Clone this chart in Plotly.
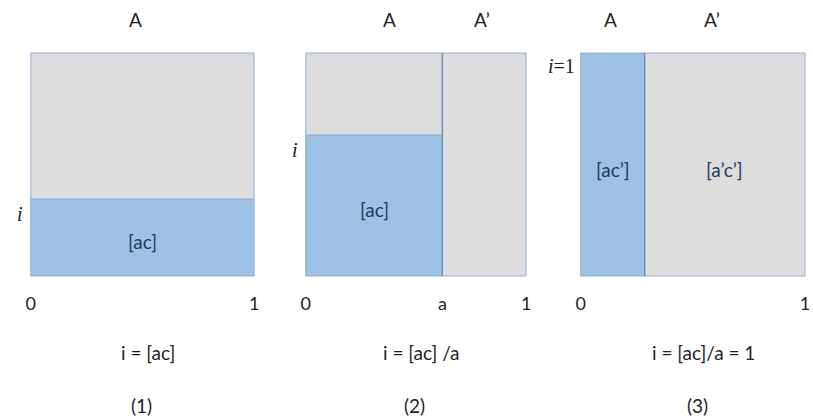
import plotly.graph_objects as go

# ---- data ----
panels = ["(1)", "(2)", "(3)"]
formulas = ["i = [ac]", "i = [ac] /a", "i = [ac]/a = 1"]
a_values = [1.0, 0.62, 0.285]          # width of region A in each panel
i_values = [0.345, 0.632, 1.0]         # height of the blue part [ac]
tick_text = [["0", "1"], ["0", "a", "1"], ["0", "1"]]
i_labels = ["i", "i", "i=1"]
inside_labels = [["[ac]"], ["[ac]"], ["[ac\u2019]", "[a\u2019c\u2019]"]]
top_labels = [["A"], ["A", "A\u2019"], ["A", "A\u2019"]]

W, H = 813, 420
BLUE = "#9EC2E6"
GRAY = "#DDDDDD"
EDGE = "#94AED0"
DIV = "#6A88B2"
TXT = "#222222"
NAVY = "#1F3B60"
FONT = "Lato"
FS = 19

# pixel boxes of each square (left, right) and shared top/bottom
px_lr = [(28, 253), (305, 527), (582, 808)]
py_top, py_bot = 53, 276
pad = 0.01

fig = go.Figure()
annotations = []
for k in range(3):
    xa = "x" if k == 0 else f"x{k+1}"
    ya = "y" if k == 0 else f"y{k+1}"
    a = a_values[k]
    i = i_values[k]
    line = dict(color=EDGE, width=1)
    fig.add_trace(go.Bar(x=[a / 2], width=[a], base=[0], y=[i], marker=dict(color=BLUE, line=line),
                         xaxis=xa, yaxis=ya, showlegend=False, hoverinfo="skip"))
    if i < 1:
        fig.add_trace(go.Bar(x=[a / 2], width=[a], base=[i], y=[1 - i], marker=dict(color=GRAY, line=line),
                             xaxis=xa, yaxis=ya, showlegend=False, hoverinfo="skip"))
    if a < 1:
        fig.add_trace(go.Bar(x=[(1 + a) / 2], width=[1 - a], base=[0], y=[1], marker=dict(color=GRAY, line=line),
                             xaxis=xa, yaxis=ya, showlegend=False, hoverinfo="skip"))
        fig.add_trace(go.Scatter(x=[a, a], y=[0, 1], mode="lines", line=dict(color=DIV, width=1.3),
                                 xaxis=xa, yaxis=ya, showlegend=False, hoverinfo="skip"))

    l, r = px_lr[k]
    scale = (r - l)
    dom_x = [(l - pad * scale) / W, min(1.0, (r + pad * scale) / W)]
    t, b = py_top, py_bot
    hs = b - t
    dom_y = [(H - b - pad * hs) / H, (H - t + pad * hs) / H]
    tv = [0, 1] if len(tick_text[k]) == 2 else [0, a, 1]
    axkey = "xaxis" if k == 0 else f"xaxis{k+1}"
    aykey = "yaxis" if k == 0 else f"yaxis{k+1}"
    fig.layout[axkey] = dict(domain=dom_x, range=[-pad, 1 + pad], showgrid=False, zeroline=False, showline=False,
                             tickvals=tv, ticktext=tick_text[k], ticks="", ticklabelstandoff=13,
                             ticklabeloverflow="allow",
                             tickfont=dict(family=FONT, size=FS - 1, color=TXT), anchor=ya, fixedrange=True)
    fig.layout[aykey] = dict(domain=dom_y, range=[-pad, 1 + pad], showgrid=False, zeroline=False, showline=False,
                             showticklabels=False, anchor=xa, fixedrange=True)

    annotations.append(dict(x=0, y=i, xref=xa, yref=ya, text=f"<i>{i_labels[k][0]}</i>{i_labels[k][1:]}",
                            showarrow=False, xanchor="right", xshift=-6 if i < 1 else -4,
                            yshift=-15 if i < 1 else -13,
                            font=dict(family="Liberation Serif", size=FS + 1, color=TXT)))
    if k < 2:
        annotations.append(dict(x=a / 2, y=i / 2, xref=xa, yref=ya, text=inside_labels[k][0], showarrow=False,
                                yshift=-4, font=dict(family=FONT, size=FS, color=NAVY)))
    else:
        annotations.append(dict(x=a / 2, y=0.5, xref=xa, yref=ya, text=inside_labels[k][0], showarrow=False,
                                yshift=-5, font=dict(family=FONT, size=FS, color=NAVY)))
        annotations.append(dict(x=(1 + a) / 2, y=0.5, xref=xa, yref=ya, text=inside_labels[k][1], showarrow=False,
                                yshift=-5, font=dict(family=FONT, size=FS, color=NAVY)))

# top labels A / A'
top_pos = [[0.47], [0.38, 0.80], [0.133, 0.587]]
for k in range(3):
    xa = "x" if k == 0 else f"x{k+1}"
    ya = "y" if k == 0 else f"y{k+1}"
    for tl, xp in zip(top_labels[k], top_pos[k]):
        annotations.append(dict(x=xp, y=1, xref=xa, yref=ya, text=tl, showarrow=False, yshift=33,
                                font=dict(family=FONT, size=FS, color=TXT)))

# formulas and panel numbers (pixel centres)
centers = [146, 421, 706]
for k in range(3):
    annotations.append(dict(x=centers[k] / W, y=1 - 352 / H, xref="paper", yref="paper",
                            xanchor="center", yanchor="middle",
                            text=formulas[k], showarrow=False, font=dict(family=FONT, size=FS, color=TXT)))
    annotations.append(dict(x=(centers[k] - 6) / W, y=1 - 405 / H, xref="paper", yref="paper",
                            xanchor="center", yanchor="middle",
                            text=panels[k], showarrow=False, font=dict(family=FONT, size=FS, color=TXT)))

fig.update_layout(width=W, height=H, margin=dict(l=0, r=0, t=0, b=0), paper_bgcolor="white",
                  plot_bgcolor="white", barmode="overlay", bargap=0, annotations=annotations)

fig.write_html("out.html", config={"displayModeBar": False, "staticPlot": True},
               post_script="document.body.style.margin='0';document.body.style.overflow='hidden';")
